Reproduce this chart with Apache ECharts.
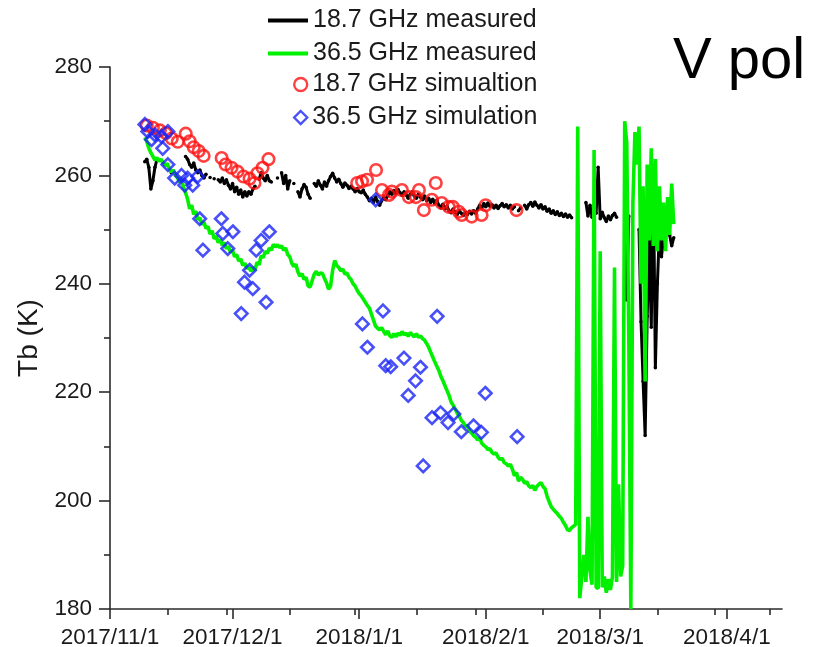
<!DOCTYPE html>
<html>
<head>
<meta charset="utf-8">
<script src="https://cdn.jsdelivr.net/npm/echarts@6/dist/echarts.min.js"></script>
<style>
  html, body { margin: 0; padding: 0; background: #fff; }
  #chart { width: 816px; height: 647px; }
</style>
</head>
<body>
<div id="chart"></div>
<script>
// Brightness temperature time series, V polarisation, winter 2017/18.

const FONT = '"Liberation Sans", Arial, Helvetica, sans-serif';

// Time axis
const axisStart = '2017-11-01 00:00';
const axisEnd = '2018-04-14 12:00';
const monthTicks = ['2017-11-01', '2017-12-01', '2018-01-01', '2018-02-01', '2018-03-01', '2018-04-01'];
const minorTicks = ['2017-11-15 05:00', '2017-11-29 14:00', '2017-12-15 00:00', '2017-12-30 19:00',
  '2018-01-15 05:00', '2018-01-29 12:00', '2018-02-15 00:00', '2018-03-15 00:00',
  '2018-03-29 00:00', '2018-04-11 12:00'];

// Tb axis
const tbMin = 180, tbMax = 280, tbStep = 20;

// Measured series: regular 12-hour samples starting at measuredStart (null = no data)
const measuredStart = '2017-11-09 12:00';
const measuredStepHours = 12;

const tb187Measured = [
  262.5, 263, 261.5, 257.5, 259, 261.5, 263, null, null, null,
  null, null, null, 260.5, null, null, null, null, null, null,
  263.5, 263, 262, 261.5, 262.3, 261, 260.5, 261, 260, 259.5,
  260.2, null, 259.6, null, 259.4, null, 259.2, 258.8, 259.5, 258.5,
  259.2, 258.2, 257.5, 258.5, 257, 257.8, 256.5, 257.3, 256, 257,
  256.2, 257, 256.5, 257.5, 258, null, 259.3, 260.5, 259.5, 259,
  260, 259, 258.8, null, null, 259.5, null, 260.5, 258.5, 260,
  257.5, 259, null, 258.5, null, 257, 256, 257.5, 258.3, 257.8,
  256.5, 255.8, null, 258.5, 258, 259, 258.2, 257.5, 258.8, 258,
  259, 259.8, 260.4, 259.5, 258.8, 259.3, 258.5, 257.8, 258.6, 258.2,
  257.6, 258, 257.5, 257, 257.6, 257, 256.8, 257.3, 256.5, 256,
  255.3, 255.8, 255, 256, 255.2, 254.5, 255.3, 256, 255.5, 256.3,
  257, 256.5, 257.2, 256.6, 257.4, 256.8, 256.3, 257, 256.4, 255.8,
  256.5, 257, 256.2, 255.8, 256.5, 256, 255.5, 256.2, 255.3, 255.8,
  255, 255.6, 254.8, 255.4, 254.5, 254, 254.7, 253.8, 254.3, 253.5,
  253.1, 253.8, 253.2, 252.8, 253.5, 253, 252.6, 253.2, 252.8, 253.4,
  252.9, 253.5, 253, 253.8, 254.5, 254, 254.8, 254.2, 254.9, 254.3,
  254.6, 254, 254.5, 253.9, 254.4, 254.8, 254.2, 254.6, 254, 254.5,
  253.8, 254.2, null, 253.5, 254, null, 254.5, 253.8, 254.6, 255,
  254.3, 255.1, 254.5, 254, 254.6, 253.8, 254.2, 253.4, 253.8, 253,
  253.5, 252.8, 253.3, 252.6, 253, 252.4, 252.9, 252.3, 252.7, 252.2,
  null, null, null, null, null, null, 255, 252.5, 254.5, 252.3,
  253.5, 253, 261.5, 252, 253.2, 252.2, 251.5, 252.5, 251.8, 252.6,
  253, 252.3, null, null, null, 252, 237, 252.5, null, null,
  null, null, 250, 233, 222, 212, 234, 248, 232, 261.5,
  224.5, 240, 250, 245, 248.5, null, null, 249, 247, 248.5
];

const tb365Measured = [
  267, 266.3, 265, 264.2, 263.5, 262.8, 263.3, 262.6, 263, 262.3,
  261.8, 262.2, 261.2, 260.6, 261, 260, 259.6, 258.8, 259.2, 257.8,
  256.8, 255.6, 253.8, 254.5, 252.8, 253.4, 251.8, 252.2, 250.9, 251.4,
  250.2, 250.6, 249.2, 249.8, 248.3, 248.8, 247.6, 248.2, 247.1, 247.6,
  246.5, 246.9, 245.8, 246.2, 245, 245.4, 244.2, 244.6, 243.4, 243.8,
  242.8, 243.1, 242.3, 243, 242.6, 244, 243.5, 245.2, 244.8, 246,
  245.6, 246.6, 246.2, 247.3, 246.8, 247.2, 246.7, 247, 246.2, 246.6,
  245.4, 245, 243.8, 243.2, 243.6, 242.2, 241.4, 241.9, 240.8, 241.2,
  239.6, 239.4, 240.6, 241.8, 242.3, 241.6, 242, 241.9, 241, 240.2,
  239, 239.6, 242.5, 244.3, 243.4, 243, 242.4, 242.7, 241.8, 242,
  241.2, 240.8, 240, 239.6, 238.8, 238.2, 237.8, 237.2, 236.6, 236,
  235.5, 234.4, 233.3, 232.2, 231.8, 231.5, 231.9, 231.2, 230.6, 231.3,
  230.4, 230.1, 230.8, 230.2, 230.9, 230.5, 231.2, 230.6, 230.9, 230.3,
  231, 230.6, 230.2, 230.8, 230.1, 230.4, 229.9, 229.6, 229, 228.3,
  227.4, 226.5, 225.6, 224.8, 224, 222.9, 222.1, 221.2, 220.3, 219.4,
  218.2, 217.6, 216.9, 216.1, 215.6, 214.8, 214.4, 213.6, 213.9, 212.8,
  212.5, 212, 211.7, 211.2, 211.5, 210.6, 210.2, 209.9, 209.4, 209.6,
  208.9, 208.6, 208.8, 208, 207.6, 207.8, 207, 206.8, 206.4, 206.7,
  205.8, 204.6, 205.2, 203.6, 204.3, 203.9, 203.2, 203.5, 202.7, 202.4,
  202.8, 201.9, 202.6, 203, 203.3, 202.6, 202.2, 200.8, 199.8, 198.9,
  198.4, 198, 197.6, 197.1, 196.7, 196, 195.4, 194.6, 194.5, 195,
  195.3, 195.6, 269, 182, 186, 190, 185, 197, 187, 184.5,
  264.7, 184, 183.8, 246, 184, 186, 183, 185.5, 183.5, 186,
  243, 185, 203, 186, 188, 270, 266, 230, 180, 255,
  268, 262, 269, 240, 258, 222, 262, 248, 265, 247,
  263, 246, 258, 248, 255, 246, 256, 249, 258.5, 251
];

// Simulated Tb, 18.7 GHz
const sim187Dates = [
  '2017-11-10 00:00', '2017-11-11 12:00', '2017-11-13 05:00', '2017-11-14 16:00', '2017-11-16 03:00',
  '2017-11-17 14:00', '2017-11-19 13:00', '2017-11-20 12:00', '2017-11-21 12:00', '2017-11-22 17:00',
  '2017-11-23 22:00', '2017-11-28 08:00', '2017-11-29 07:00', '2017-11-30 18:00', '2017-12-02 05:00',
  '2017-12-03 16:00', '2017-12-05 04:00', '2017-12-06 09:00', '2017-12-07 02:00', '2017-12-08 08:00',
  '2017-12-09 19:00', '2017-12-31 12:00', '2018-01-01 17:00', '2018-01-02 22:00', '2018-01-05 03:00',
  '2018-01-06 14:00', '2018-01-08 07:00', '2018-01-09 00:00', '2018-01-11 11:00', '2018-01-13 04:00',
  '2018-01-14 21:00', '2018-01-15 15:00', '2018-01-16 20:00', '2018-01-18 19:00', '2018-01-19 18:00',
  '2018-01-21 05:00', '2018-01-22 22:00', '2018-01-23 22:00', '2018-01-25 09:00', '2018-01-26 02:00',
  '2018-01-28 13:00', '2018-01-30 23:00', '2018-01-31 23:00', '2018-02-08 12:00'
];
const sim187Tb = [
  269.2, 268.8, 268.3, 267.8, 266.8, 266.2, 267.7, 266.3, 265.2, 264.5,
  263.6, 263.2, 262.0, 261.4, 260.7, 259.8, 259.4, 258.6, 260.4, 261.4,
  263.0, 258.6, 258.9, 259.2, 261.0, 257.3, 256.4, 257.0, 257.3, 256.0,
  256.0, 257.3, 253.6, 255.5, 258.6, 254.9, 254.2, 254.2, 253.3, 252.7,
  252.4, 252.7, 254.5, 253.6
];

// Simulated Tb, 36.5 GHz
const sim365Dates = [
  '2017-11-09 13:00', '2017-11-10 06:00', '2017-11-11 04:00', '2017-11-11 23:00', '2017-11-13 15:00',
  '2017-11-13 22:00', '2017-11-15 04:00', '2017-11-15 04:00', '2017-11-16 20:00', '2017-11-18 12:00',
  '2017-11-19 07:00', '2017-11-20 00:00', '2017-11-21 06:00', '2017-11-22 11:00', '2017-11-22 23:00',
  '2017-11-23 18:00', '2017-11-28 06:00', '2017-11-28 15:00', '2017-11-29 20:00', '2017-12-01 02:00',
  '2017-12-03 03:00', '2017-12-03 22:00', '2017-12-05 04:00', '2017-12-05 23:00', '2017-12-06 19:00',
  '2017-12-08 00:00', '2017-12-09 05:00', '2017-12-10 00:00', '2018-01-01 19:00', '2018-01-03 00:00',
  '2018-01-05 01:00', '2018-01-06 20:00', '2018-01-07 12:00', '2018-01-08 17:00', '2018-01-11 23:00',
  '2018-01-13 00:00', '2018-01-14 19:00', '2018-01-16 00:00', '2018-01-16 16:00', '2018-01-18 20:00',
  '2018-01-20 02:00', '2018-01-20 22:00', '2018-01-22 18:00', '2018-01-24 04:00', '2018-01-26 00:00',
  '2018-01-29 00:00', '2018-01-30 22:00', '2018-01-31 21:00', '2018-02-08 16:00'
];
const sim365Tb = [
  269.4, 268.1, 266.6, 267.5, 267.2, 265.0, 268.1, 262.0, 259.5, 260.0,
  258.2, 259.5, 258.2, 259.8, 252.0, 246.2, 252.0, 249.3, 246.5, 249.6,
  234.5, 240.3, 242.5, 239.1, 246.2, 248.0, 236.6, 249.6, 232.6, 228.3,
  255.5, 235.0, 224.9, 224.7, 226.3, 219.4, 222.1, 224.6, 206.4, 215.3,
  234.0, 216.2, 214.4, 216.0, 212.7, 213.8, 212.6, 219.8, 211.8
];

// ---- helpers ----
function toTime(s) {
  const parts = s.split(' ');
  const ymd = parts[0].split('-').map(Number);
  const hm = (parts[1] || '00:00').split(':').map(Number);
  return Date.UTC(ymd[0], ymd[1] - 1, ymd[2], hm[0], hm[1]);
}
function formatDate(v) {
  const d = new Date(v);
  return d.getUTCFullYear() + '/' + (d.getUTCMonth() + 1) + '/' + d.getUTCDate();
}
function regularSeries(start, stepHours, values) {
  const t0 = toTime(start);
  const step = stepHours * 3600 * 1000;
  return values.map((v, i) => [t0 + i * step, v]);
}
function pairSeries(dates, values) {
  return dates.map((d, i) => [toTime(d), values[i]]);
}

const TEXT = '#1a1a1a';
const AXIS = '#2b2b2b';
const GREEN = '#00f000';
const RED = '#ff1010';
const BLUE = '#1a24f5';

const chart = echarts.init(document.getElementById('chart'), null, { renderer: 'canvas' });

chart.setOption({
  animation: false,
  backgroundColor: '#ffffff',
  textStyle: { fontFamily: FONT },
  title: {
    text: 'V pol',
    left: 668,
    top: 28,
    textStyle: { fontSize: 58, fontWeight: 'normal', color: '#000', fontFamily: FONT }
  },
  legend: [
    {
      data: [
        { name: '18.7 GHz measured', icon: 'rect' },
        { name: '36.5 GHz measured', icon: 'rect' }
      ],
      orient: 'vertical',
      left: 263,
      top: 3,
      itemWidth: 40,
      itemHeight: 4,
      itemGap: 8,
      selectedMode: false,
      textStyle: { fontSize: 25, lineHeight: 24, color: TEXT, fontFamily: FONT }
    },
    {
      data: ['18.7 GHz simualtion', '36.5 GHz simulation'],
      orient: 'vertical',
      left: 288,
      top: 67,
      itemWidth: 13,
      itemHeight: 13,
      itemGap: 8,
      selectedMode: false,
      itemStyle: { borderWidth: 2.4 },
      textStyle: { fontSize: 25, lineHeight: 24, color: TEXT, fontFamily: FONT }
    }
  ],
  grid: { left: 110, right: 34, top: 67, bottom: 38, containLabel: false, outerBoundsMode: 'none' },
  xAxis: [
    {
      type: 'value',
      position: 'bottom',
      min: toTime(axisStart),
      max: toTime(axisEnd),
      axisLine: { show: true, lineStyle: { color: AXIS, width: 1.6 } },
      axisTick: {
        show: true,
        customValues: monthTicks.map(toTime),
        length: 10,
        lineStyle: { color: AXIS, width: 1.6 }
      },
      axisLabel: {
        customValues: monthTicks.map(toTime),
        formatter: formatDate,
        fontSize: 22.5,
        margin: 17,
        color: TEXT,
        fontFamily: FONT
      },
      splitLine: { show: false }
    },
    {
      type: 'value',
      position: 'bottom',
      min: toTime(axisStart),
      max: toTime(axisEnd),
      axisLine: { show: false },
      axisTick: {
        show: true,
        customValues: minorTicks.map(toTime),
        length: 6,
        lineStyle: { color: AXIS, width: 1.6 }
      },
      axisLabel: { show: false },
      splitLine: { show: false }
    }
  ],
  yAxis: {
    type: 'value',
    min: tbMin,
    max: tbMax,
    interval: tbStep,
    name: 'Tb (K)',
    nameLocation: 'middle',
    nameGap: 63,
    nameTextStyle: { fontSize: 28, color: TEXT, fontFamily: FONT },
    axisLine: { show: true, lineStyle: { color: AXIS, width: 1.6 } },
    axisTick: { show: true, length: 11, lineStyle: { color: AXIS, width: 1.6 } },
    minorTick: { show: true, splitNumber: 2, length: 6, lineStyle: { color: AXIS, width: 1.6 } },
    axisLabel: { fontSize: 22.5, margin: 18, color: TEXT, fontFamily: FONT },
    splitLine: { show: false }
  },
  series: [
    {
      name: '18.7 GHz measured',
      type: 'line',
      xAxisIndex: 0,
      data: regularSeries(measuredStart, measuredStepHours, tb187Measured),
      connectNulls: false,
      symbol: 'circle',
      symbolSize: 3.5,
      showSymbol: true,
      showAllSymbol: true,
      color: '#000000',
      itemStyle: { color: '#000000' },
      lineStyle: { color: '#000000', width: 3 },
      emphasis: { disabled: true },
      silent: true,
      z: 2
    },
    {
      name: '36.5 GHz measured',
      type: 'line',
      xAxisIndex: 0,
      data: regularSeries(measuredStart, measuredStepHours, tb365Measured),
      showSymbol: false,
      color: GREEN,
      itemStyle: { color: GREEN },
      lineStyle: { color: GREEN, width: 3.6 },
      emphasis: { disabled: true },
      silent: true,
      z: 3
    },
    {
      name: '18.7 GHz simualtion',
      type: 'scatter',
      xAxisIndex: 0,
      data: pairSeries(sim187Dates, sim187Tb),
      symbol: 'circle',
      symbolSize: 11.5,
      itemStyle: { color: 'rgba(255,255,255,0)', borderColor: RED, borderWidth: 2.6 },
      emphasis: { disabled: true },
      silent: true,
      z: 4
    },
    {
      name: '36.5 GHz simulation',
      type: 'scatter',
      xAxisIndex: 0,
      data: pairSeries(sim365Dates, sim365Tb),
      symbol: 'diamond',
      symbolSize: 12.5,
      itemStyle: { color: 'rgba(255,255,255,0)', borderColor: BLUE, borderWidth: 2.6 },
      emphasis: { disabled: true },
      silent: true,
      z: 5
    }
  ]
});
</script>
</body>
</html>
